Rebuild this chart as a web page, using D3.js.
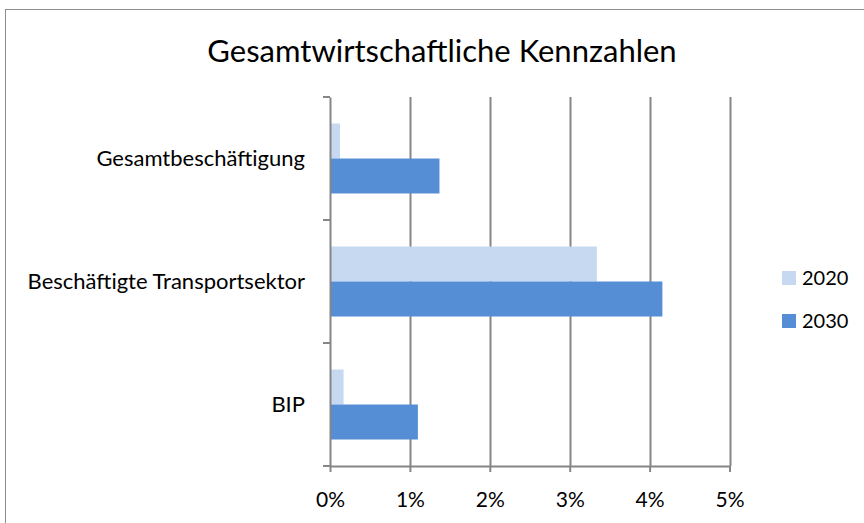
<!DOCTYPE html>
<html><head><meta charset="utf-8">
<script src="https://cdn.jsdelivr.net/npm/d3@7"></script>
<style>body{margin:0;background:#fff}svg{display:block}text{font-family:Lato,"Open Sans",sans-serif;fill:#000}</style>
</head><body><svg id="c" width="864" height="523"></svg>
<script>
const categories = ["Gesamtbeschäftigung", "Beschäftigte Transportsektor", "BIP"];
const seriesNames = ["2020", "2030"];
const values2020 = [0.125, 3.34, 0.17];
const values2030 = [1.37, 4.16, 1.10];
const tickValues = [0, 1, 2, 3, 4, 5];
const colors = {"2020": "#c6d9f1", "2030": "#558ed5"};

const svg = d3.select("#c");
svg.append("rect").attr("x",5.5).attr("y",9.5).attr("width",900).attr("height",600)
  .attr("fill","#fff").attr("stroke","#8c8c8c").attr("stroke-width",1);

const pLeft = 330, pRight = 729.5, pTop = 97, pBottom = 466;
const x = d3.scaleLinear().domain([0,5]).range([pLeft,pRight]);
const y0 = d3.scaleBand().domain(categories).range([pTop,pBottom]).padding(0);
const y1 = d3.scaleBand().domain(seriesNames).range([0,y0.bandwidth()]).paddingInner(0).paddingOuter(0.757);

// gridlines
svg.append("g").selectAll("line").data(tickValues.slice(1)).join("line")
  .attr("x1",d=>Math.round(x(d))+0.5).attr("x2",d=>Math.round(x(d))+0.5)
  .attr("y1",pTop).attr("y2",pBottom).attr("stroke","#868686").attr("stroke-width",2);

const data = categories.map((c,i)=>({cat:c, vals:[{s:"2020",v:values2020[i]},{s:"2030",v:values2030[i]}]}));
svg.append("g").selectAll("g").data(data).join("g")
  .attr("transform",d=>`translate(0,${y0(d.cat)})`)
  .selectAll("rect").data(d=>d.vals).join("rect")
  .attr("x",x(0)).attr("y",d=>y1(d.s)).attr("width",d=>x(d.v)-x(0)).attr("height",y1.bandwidth())
  .attr("fill",d=>colors[d.s]);

// x axis
const xAxis = svg.append("g").attr("transform",`translate(0,${pBottom})`)
  .call(d3.axisBottom(x).tickValues(tickValues).tickFormat(d=>d+"%").tickSize(6).tickSizeOuter(0));
xAxis.select(".domain").attr("stroke","#868686").attr("stroke-width",2);
xAxis.selectAll(".tick line").attr("stroke","#868686").attr("stroke-width",2);
xAxis.selectAll(".tick text").attr("dy",0).attr("y",41).style("font-size","21px").style("font-family","Lato,sans-serif").attr("fill","#000");

// y axis
const yAxis = svg.append("g").attr("transform",`translate(${pLeft},0)`)
  .call(d3.axisLeft(y0).tickSize(0).tickPadding(25));
yAxis.select(".domain").attr("stroke","#868686").attr("stroke-width",2);
yAxis.selectAll(".tick text").style("font-size","22px").style("font-family","Lato,sans-serif").attr("fill","#000");
// category boundary ticks
const bounds = [pTop, ...categories.map(c=>y0(c)+y0.bandwidth())];
yAxis.append("g").selectAll("line").data(bounds).join("line")
  .attr("x1",-7).attr("x2",0).attr("y1",d=>d).attr("y2",d=>d)
  .attr("stroke","#868686").attr("stroke-width",2);

// title
svg.append("text").attr("x",442).attr("y",62).attr("text-anchor","middle")
  .style("font-size","31px").text("Gesamtwirtschaftliche Kennzahlen");

// legend
const lg = svg.append("g").selectAll("g").data(seriesNames).join("g")
  .attr("transform",(d,i)=>`translate(782,${271+i*43})`);
lg.append("rect").attr("width",14).attr("height",14).attr("fill",d=>colors[d]);
lg.append("text").attr("x",20).attr("y",14).style("font-size","20px").text(d=>d);
</script></body></html>
